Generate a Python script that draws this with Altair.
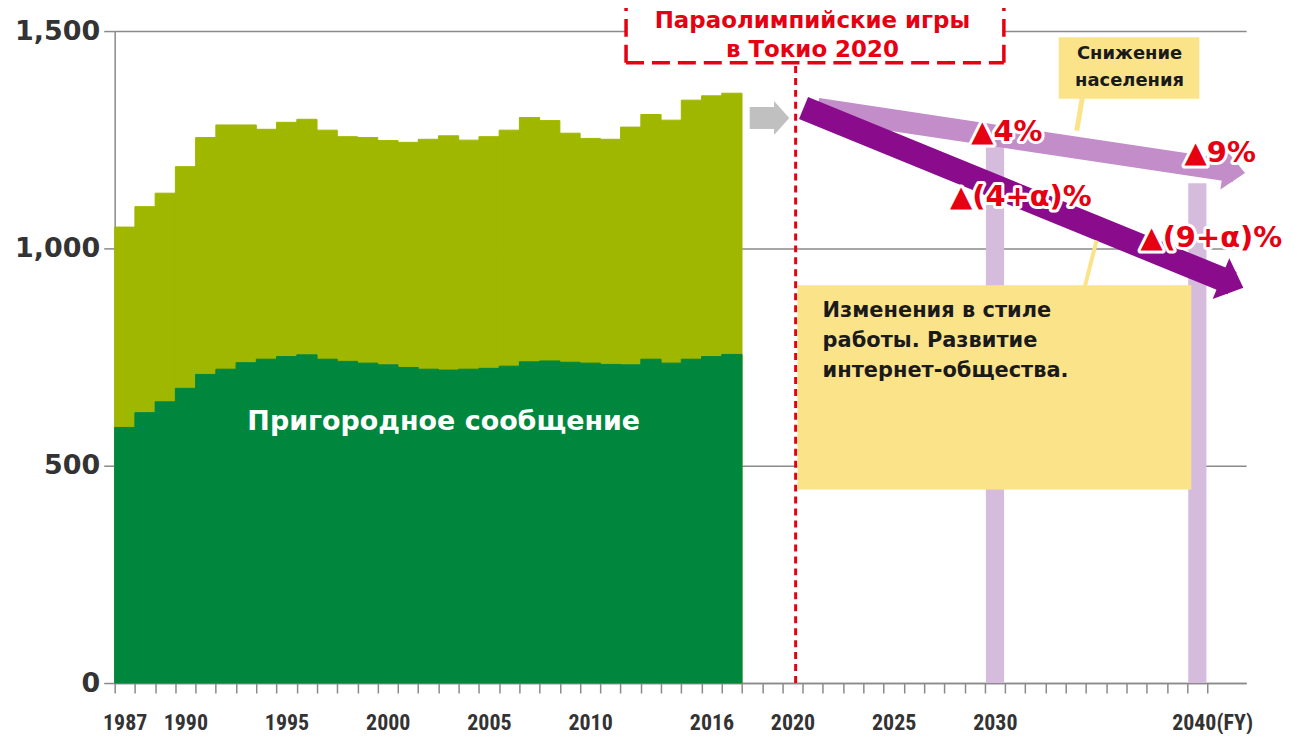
import math
import altair as alt
import pandas as pd

# ---------------- data ----------------
years = list(range(1987, 2018))
total = [1049, 1096, 1127, 1188, 1255, 1284, 1284, 1274, 1290, 1297,
         1272, 1257, 1255, 1248, 1244, 1251, 1259, 1249, 1257, 1272,
         1301, 1294, 1265, 1253, 1251, 1279, 1308, 1295, 1341, 1351, 1357]
commuter = [588, 622, 647, 678, 710, 722, 737, 745, 751, 755,
            745, 740, 736, 732, 726, 722, 720, 722, 724, 729,
            739, 741, 738, 736, 733, 732, 745, 736, 745, 751, 756]
forecast_years = [2030, 2040]
forecast_values = [1250, 1150]

x_label_years = [1987, 1990, 1995, 2000, 2005, 2010, 2016, 2020, 2025, 2030, 2040]
x_label_texts = ["1987", "1990", "1995", "2000", "2005", "2010", "2016",
                 "2020", "2025", "2030", "2040(FY)"]
y_ticks = [0, 500, 1000, 1500]

# forecast arrows: start (year, value) -> end (year, value)
arrow_names = ["gray", "light", "dark"]
arrow_start = [(2017.88, 1300), (2021.23, 1321), (2020.54, 1323)]
arrow_end = [(2019.11, 1300), (2041.82, 1177), (2041.72, 920)]

pct_texts = ["▲4%", "▲9%", "▲(4+α)%", "▲(9+α)%"]
pct_pos = [(2030.59, 1268), (2041.13, 1220), (2031.28, 1119), (2040.69, 1023)]

commuter_label = "Пригородное сообщение"
olympic_text = "Параолимпийские игры\nв Токио 2020"
pop_text = "Снижение\nнаселения"
work_text = "Изменения в стиле\nработы. Развитие\nинтернет-общества."

# ---------------- geometry / style ----------------
W, H = 1135, 654
PX_PER_YEAR = 20.3
X0 = 1986.5
X1 = X0 + W / PX_PER_YEAR
Y_MAX = 1500
PX_PER_UNIT = H / Y_MAX

LIGHT_GREEN = "#a0b700"
DARK_GREEN = "#00873e"
LAVENDER = "#d6bcdc"
LIGHT_ARROW = "#c28dc9"
DARK_ARROW = "#8a0c8c"
GRAY_ARROW = "#c0c0c0"
RED = "#e60012"
YELLOW = "#fbe38a"
AXIS_GRAY = "#8a8a8a"

xs = alt.Scale(domain=[X0, X1], nice=False, zero=False)
ys = alt.Scale(domain=[0, Y_MAX], nice=False, zero=True)

label_expr = " : ".join(
    f"datum.value == {y - 0.5} ? '{t}'" for y, t in zip(x_label_years, x_label_texts)
) + " : ''"

x_axis = alt.Axis(
    values=[y - 0.5 for y in range(1987, 2042)],
    labelExpr=label_expr,
    labelOverlap=False,
    labelFlush=False,
    labelBound=False,
    labelOffset={"condition": {"test": "datum.value == 2039.5", "value": 25}, "value": 10},
    tickSize=10, tickColor=AXIS_GRAY, tickWidth=1.5,
    domainColor=AXIS_GRAY, domainWidth=1.5,
    grid=False, title=None,
    labelFont="Liberation Sans Narrow, Roboto Condensed, DejaVu Sans Condensed, sans-serif",
    labelFontSize=22, labelFontWeight="bold", labelColor="#333333", labelPadding=20,
)
y_axis = alt.Axis(
    values=y_ticks, labelExpr="format(datum.value, ',')", grid=True, gridColor=AXIS_GRAY,
    gridWidth=1.5, tickSize=11, tickColor=AXIS_GRAY, tickWidth=1.5,
    domainColor=AXIS_GRAY, domainWidth=1.5, title=None,
    labelFont="DejaVu Sans", labelFontSize=27, labelFontWeight="bold",
    labelColor="#333333", labelPadding=4,
)


def X(field):
    return alt.X(field, type="quantitative", scale=xs, axis=x_axis)


def Y(field):
    return alt.Y(field, type="quantitative", scale=ys, axis=y_axis)


df = pd.DataFrame({"year": years, "total": total, "commuter": commuter})
df["x0"] = df["year"] - 0.5
df["x1"] = df["year"] + 0.5

total_bars = alt.Chart(df).mark_rect(color=LIGHT_GREEN, stroke=LIGHT_GREEN, strokeWidth=1).encode(
    x=X("x0"), x2="x1:Q", y=Y("total"), y2=alt.datum(0),
)
commuter_bars = alt.Chart(df).mark_rect(color=DARK_GREEN, stroke=DARK_GREEN, strokeWidth=1).encode(
    x=X("x0"), x2="x1:Q", y=Y("commuter"), y2=alt.datum(0),
)

fdf = pd.DataFrame({"year": forecast_years, "v": forecast_values})
fdf["x0"] = fdf["year"] - 0.45
fdf["x1"] = fdf["year"] + 0.45
forecast_bars = alt.Chart(fdf).mark_rect(color=LAVENDER).encode(
    x=X("x0"), x2="x1:Q", y=Y("v"), y2=alt.datum(0),
)

# red dashed box (Paralympics)
box = {"l": 2011.77, "r": 2030.44, "b": 1427, "t": 1560}
box_df = pd.DataFrame([box])
box_fill = alt.Chart(box_df).mark_rect(color="white").encode(
    x=X("l"), x2="r:Q", y=Y("b"), y2="t:Q")
box_left = alt.Chart(box_df).mark_rule(color=RED, strokeWidth=3.5, strokeDash=[18, 8]).encode(
    x=X("l"), y=Y("b"), y2="t:Q")
box_right = alt.Chart(box_df).mark_rule(color=RED, strokeWidth=3.5, strokeDash=[18, 8]).encode(
    x=X("r"), y=Y("b"), y2="t:Q")
box_bottom = alt.Chart(box_df).mark_rule(color=RED, strokeWidth=3.5, strokeDash=[18, 8]).encode(
    x=X("l"), x2="r:Q", y=Y("b"))
vline_df = pd.DataFrame({"x": [2020.15], "y0": [0], "y1": [1427]})
vline = alt.Chart(vline_df).mark_rule(color=RED, strokeWidth=3, strokeDash=[7, 5]).encode(
    x=X("x"), y=Y("y0"), y2="y1:Q")
olympic = alt.Chart(pd.DataFrame({"x": [2020.98], "y": [1523], "t": [olympic_text]})).mark_text(
    color=RED, font="DejaVu Sans", fontWeight="bold", fontSize=23, lineBreak="\n",
    lineHeight=29, align="center", baseline="middle").encode(x=X("x"), y=Y("y"), text="t:N")


# arrows
arrow_style = {
    "gray": (GRAY_ARROW, 22, 34, 0.45),
    "light": (LIGHT_ARROW, 22, 40, 0.55),
    "dark": (DARK_ARROW, 24, 44, 0.55),
}
arrow_layers = []
for name, (xa, ya), (xb, yb) in zip(arrow_names, arrow_start, arrow_end):
    col, width, head, half = arrow_style[name]
    dx = (xb - xa) * PX_PER_YEAR
    dy = (ya - yb) * PX_PER_UNIT
    ang = math.degrees(math.atan2(dy, dx))
    adf = pd.DataFrame({"xa": [xa], "ya": [ya], "xb": [xb], "yb": [yb]})
    shaft = alt.Chart(adf).mark_rule(color=col, strokeWidth=width, strokeCap="butt").encode(
        x=X("xa"), y=Y("ya"), x2="xb:Q", y2="yb:Q")
    if name == "gray":
        hx, hy = xb + 0.35, yb
    else:
        hx, hy = xb, yb
    hdf = pd.DataFrame({"x": [hx], "y": [hy]})
    tip = alt.Chart(hdf).mark_point(
        shape=f"M-{half},-1L{half},0L-{half},1Z", filled=True, fill=col, color=col,
        opacity=1, strokeWidth=0, size=head * head, angle=ang % 360).encode(x=X("x"), y=Y("y"))
    arrow_layers += [shaft, tip]

# yellow callouts
pop_box = alt.Chart(pd.DataFrame({"l": [2033.15], "r": [2040.10], "b": [1344], "t": [1486]})).mark_rect(
    color=YELLOW).encode(x=X("l"), x2="r:Q", y=Y("b"), y2="t:Q")
pop_ptr = alt.Chart(pd.DataFrame({"xa": [2034.33], "ya": [1350], "xb": [2034.04], "yb": [1271]})).mark_rule(
    color=YELLOW, strokeWidth=5).encode(x=X("xa"), y=Y("ya"), x2="xb:Q", y2="yb:Q")
pop_lbl = alt.Chart(pd.DataFrame({"x": [2036.65], "y": [1447], "t": [pop_text]})).mark_text(
    color="#1a1a1a", font="DejaVu Sans", fontWeight="bold", fontSize=18, lineBreak="\n",
    lineHeight=27, align="center", baseline="middle").encode(x=X("x"), y=Y("y"), text="t:N")

work_box = alt.Chart(pd.DataFrame({"l": [2020.24], "r": [2039.70], "b": [445], "t": [915]})).mark_rect(
    color=YELLOW).encode(x=X("l"), x2="r:Q", y=Y("b"), y2="t:Q")
work_ptr = alt.Chart(pd.DataFrame({"xa": [2035.02], "ya": [1018], "xb": [2034.43], "yb": [910]})).mark_rule(
    color=YELLOW, strokeWidth=4).encode(x=X("xa"), y=Y("ya"), x2="xb:Q", y2="yb:Q")
work_lbl = alt.Chart(pd.DataFrame({"x": [2021.48], "y": [855], "t": [work_text]})).mark_text(
    color="#1a1a1a", font="DejaVu Sans", fontWeight="bold", fontSize=21, lineBreak="\n",
    lineHeight=30, align="left", baseline="middle").encode(x=X("x"), y=Y("y"), text="t:N")

commuter_lbl = alt.Chart(pd.DataFrame({"x": [2002.76], "y": [601], "t": [commuter_label]})).mark_text(
    color="white", font="DejaVu Sans", fontWeight="bold", fontSize=27,
    align="center", baseline="middle").encode(x=X("x"), y=Y("y"), text="t:N")

pdf = pd.DataFrame({"x": [p[0] for p in pct_pos], "y": [p[1] for p in pct_pos], "t": pct_texts})
pct_halo = alt.Chart(pdf).mark_text(
    color="white", stroke="white", strokeWidth=6, strokeJoin="round", font="DejaVu Sans",
    fontWeight="bold", fontSize=29, align="center", baseline="middle").encode(
    x=X("x"), y=Y("y"), text="t:N")
pct_lbl = alt.Chart(pdf).mark_text(
    color=RED, font="DejaVu Sans", fontWeight="bold", fontSize=29,
    align="center", baseline="middle").encode(x=X("x"), y=Y("y"), text="t:N")

chart = alt.layer(
    total_bars, commuter_bars, forecast_bars,
    box_fill, box_left, box_right, box_bottom, vline, olympic,
    *arrow_layers,
    pop_ptr, pop_box, pop_lbl,
    work_ptr, work_box, work_lbl,
    commuter_lbl, pct_halo, pct_lbl,
).properties(
    width=W, height=H,
    autosize=alt.AutoSizeParams(type="none"),
    padding={"left": 107, "top": 22, "right": 45, "bottom": 50},
    background="white",
).configure_view(stroke=None)

chart.save("out.html", embed_options={"renderer": "svg", "actions": False})
